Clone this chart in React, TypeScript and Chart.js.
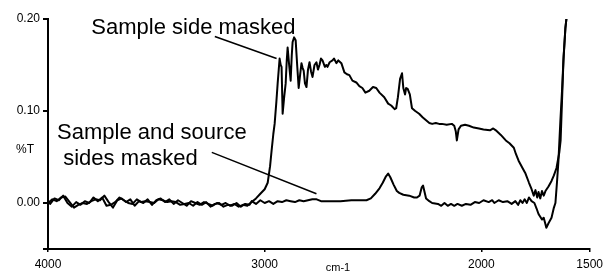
import React, { useEffect, useRef } from "react";
import { Chart, registerables } from "chart.js";

Chart.register(...registerables);

// ---- Data (wavenumber cm-1, %T) ----
const sideMaskedWn = [
  4000, 3980, 3960, 3940, 3920, 3900, 3880, 3860, 3840, 3820, 3800, 3780, 3760, 3740, 3720, 3700,
  3680, 3660, 3640, 3620, 3600, 3580, 3560, 3540, 3520, 3500, 3480, 3460, 3440, 3420, 3400, 3380,
  3360, 3340, 3320, 3300, 3280, 3260, 3240, 3220, 3200, 3180, 3160, 3140, 3120, 3100, 3080, 3060,
  3040, 3020, 3000, 2986, 2975, 2968, 2960, 2954, 2946, 2940, 2935, 2931, 2926, 2922, 2917, 2910,
  2903, 2898, 2894, 2887, 2880, 2875, 2871, 2864, 2857, 2850, 2843, 2836, 2830, 2825, 2820, 2814,
  2807, 2800, 2793, 2786, 2779, 2770, 2761, 2754, 2747, 2740, 2733, 2722, 2715, 2710, 2700, 2687,
  2680, 2669, 2660, 2646, 2632, 2620, 2609, 2595, 2577, 2563, 2549, 2535, 2517, 2500, 2485, 2470,
  2448, 2430, 2416, 2400, 2393, 2385, 2375, 2366, 2360, 2352, 2347, 2340, 2330, 2320, 2305, 2287,
  2270, 2255, 2240, 2227, 2210, 2195, 2182, 2160, 2136, 2125, 2118, 2113, 2105, 2094, 2075, 2057,
  2035, 2011, 1990, 1960, 1945, 1933, 1910, 1887, 1870, 1850, 1840, 1828, 1810, 1796, 1780, 1768,
  1758, 1750, 1742, 1736, 1728, 1720, 1712, 1704, 1690, 1676, 1665, 1653, 1640, 1634, 1628, 1621,
  1612, 1605,
];
const sideMaskedT = [
  0.000, 0.004, 0.002, 0.006, 0.007, 0.001, -0.005, -0.002, 0.000, -0.001, 0.002, 0.004, 0.003, 0.008, 0.001, -0.005,
  0.003, 0.005, 0.001, 0.004, -0.003, 0.002, 0.000, 0.004, -0.002, 0.003, 0.005, 0.001, 0.004, -0.001, 0.003, 0.000,
  -0.003, 0.002, 0.000, -0.002, 0.001, -0.001, -0.003, 0.000, -0.002, 0.000, -0.003, -0.001, -0.004, -0.002, -0.003, 0.001,
  0.005, 0.010, 0.015, 0.022, 0.040, 0.057, 0.075, 0.086, 0.110, 0.130, 0.145, 0.157, 0.150, 0.148, 0.097, 0.115,
  0.130, 0.155, 0.169, 0.150, 0.133, 0.160, 0.175, 0.180, 0.177, 0.150, 0.125, 0.140, 0.152, 0.147, 0.144, 0.130,
  0.126, 0.145, 0.153, 0.143, 0.137, 0.150, 0.153, 0.145, 0.150, 0.157, 0.155, 0.148, 0.150, 0.148, 0.153, 0.155,
  0.157, 0.152, 0.155, 0.152, 0.142, 0.140, 0.139, 0.133, 0.131, 0.127, 0.125, 0.120, 0.122, 0.126, 0.125, 0.120,
  0.115, 0.108, 0.106, 0.102, 0.103, 0.115, 0.135, 0.141, 0.125, 0.118, 0.125, 0.124, 0.118, 0.103, 0.100, 0.097,
  0.093, 0.090, 0.087, 0.086, 0.087, 0.086, 0.086, 0.085, 0.086, 0.084, 0.078, 0.068, 0.080, 0.084, 0.085, 0.084,
  0.082, 0.081, 0.080, 0.079, 0.081, 0.079, 0.074, 0.068, 0.065, 0.060, 0.053, 0.046, 0.038, 0.032, 0.022, 0.015,
  0.008, 0.014, 0.006, 0.012, 0.005, 0.013, 0.008, 0.013, 0.018, 0.024, 0.030, 0.038, 0.055, 0.068, 0.108, 0.155,
  0.190, 0.205,
];

const bothMaskedWn = [
  4000, 3990, 3970, 3950, 3930, 3910, 3890, 3870, 3850, 3830, 3810, 3790, 3770, 3750, 3730, 3710,
  3690, 3670, 3650, 3630, 3610, 3590, 3570, 3550, 3530, 3510, 3490, 3470, 3450, 3430, 3410, 3390,
  3370, 3350, 3330, 3310, 3290, 3270, 3250, 3230, 3210, 3190, 3170, 3150, 3130, 3110, 3090, 3070,
  3060, 3040, 3020, 3000, 2980, 2960, 2940, 2920, 2900, 2880, 2860, 2840, 2820, 2800, 2780, 2760,
  2740, 2700, 2650, 2600, 2560, 2530, 2510, 2490, 2470, 2455, 2440, 2430, 2420, 2405, 2390, 2379,
  2360, 2333, 2310, 2297, 2285, 2275, 2269, 2262, 2255, 2240, 2227, 2200, 2185, 2170, 2155, 2140,
  2125, 2110, 2090, 2071, 2050, 2030, 2010, 1990, 1966, 1950, 1940, 1920, 1900, 1880, 1860, 1843,
  1830, 1820, 1810, 1800, 1790, 1780, 1768, 1755, 1745, 1736, 1720, 1712, 1704, 1700, 1690, 1676,
  1665, 1658, 1650, 1644, 1635, 1628, 1620, 1612, 1605,
];
const bothMaskedT = [
  0.002, -0.001, 0.005, 0.003, 0.008, 0.000, -0.004, 0.001, -0.002, 0.002, 0.000, 0.006, 0.002, 0.006, -0.003, -0.002,
  0.001, 0.006, 0.003, 0.000, -0.001, 0.004, 0.001, 0.002, 0.001, 0.000, 0.004, 0.003, 0.001, 0.002, 0.001, -0.002,
  -0.001, 0.000, -0.003, 0.001, -0.002, 0.001, -0.004, -0.001, 0.000, -0.004, -0.002, -0.003, 0.000, -0.004, -0.001, -0.002,
  0.002, -0.001, 0.003, 0.000, 0.002, -0.001, 0.002, 0.001, 0.003, 0.002, 0.001, 0.003, 0.002, 0.003, 0.004, 0.004,
  0.002, 0.002, 0.002, 0.003, 0.003, 0.003, 0.005, 0.010, 0.016, 0.022, 0.029, 0.032, 0.028, 0.020, 0.013, 0.011,
  0.009, 0.008, 0.006, 0.006, 0.008, 0.017, 0.019, 0.012, 0.005, 0.002, 0.000, -0.001, -0.003, 0.000, -0.003, -0.001,
  -0.003, -0.001, -0.003, -0.001, -0.002, 0.001, 0.000, 0.003, 0.001, 0.003, 0.000, 0.003, 0.001, 0.002, -0.001, 0.002,
  -0.002, 0.003, 0.000, 0.004, 0.000, 0.006, 0.002, 0.000, -0.006, -0.012, -0.018, -0.016, -0.023, -0.027, -0.022, -0.016,
  -0.005, 0.000, 0.025, 0.046, 0.090, 0.120, 0.160, 0.190, 0.205,
];

const xTickValues = [4000, 3000, 2000, 1500];
const yTickValues = [-0.05, 0, 0.1, 0.2];

const FONT = "'Liberation Sans', Arial, sans-serif";

const annotationPlugin = {
  id: "annotations",
  afterDraw(chart: any) {
    const { ctx } = chart;
    const xs = chart.scales.x;
    const ys = chart.scales.y;
    const px = (w: number) => xs.getPixelForValue(w);
    const py = (v: number) => ys.getPixelForValue(v);
    ctx.save();
    ctx.fillStyle = "#000";
    ctx.strokeStyle = "#000";
    ctx.textBaseline = "middle";
    ctx.textAlign = "left";
    ctx.font = `22px ${FONT}`;
    ctx.fillText("Sample side masked", px(3800), py(0.190));
    ctx.fillText("Sample and source", px(3958), py(0.0765));
    ctx.fillText("sides masked", px(3930), py(0.048));
    ctx.lineWidth = 1.5;
    ctx.beginPath();
    ctx.moveTo(px(3230), py(0.181));
    ctx.lineTo(px(2945), py(0.157));
    ctx.moveTo(px(3244), py(0.055));
    ctx.lineTo(px(2761), py(0.010));
    ctx.stroke();
    ctx.font = `12px ${FONT}`;
    ctx.textAlign = "center";
    ctx.fillText("%T", 25, 150);
    ctx.font = `11px ${FONT}`;
    ctx.fillText("cm-1", 338, 268);
    ctx.restore();
  },
};

export default function App() {
  const ref = useRef<HTMLCanvasElement | null>(null);
  useEffect(() => {
    document.body.style.margin = "0";
    const canvas = ref.current!;
    const mk = (wn: number[], t: number[]) => wn.map((w, i) => ({ x: w, y: t[i] }));
    const chart = new Chart(canvas, {
      type: "line",
      data: {
        datasets: [
          {
            data: mk(sideMaskedWn, sideMaskedT),
            borderColor: "#000",
            borderWidth: 2,
            pointRadius: 0,
            tension: 0,
            borderJoinStyle: "round",
          },
          {
            data: mk(bothMaskedWn, bothMaskedT),
            borderColor: "#000",
            borderWidth: 2,
            pointRadius: 0,
            tension: 0,
            borderJoinStyle: "round",
          },
        ],
      },
      options: {
        responsive: false,
        animation: false,
        layout: { padding: { top: 19, right: 17, bottom: 0, left: 0 } },
        plugins: { legend: { display: false }, tooltip: { enabled: false } },
        scales: {
          x: {
            type: "linear",
            reverse: true,
            min: 1500,
            max: 4000,
            afterBuildTicks: (s: any) => {
              s.ticks = xTickValues.map((v) => ({ value: v }));
            },
            afterFit: (s: any) => {
              s.height = 22;
            },
            grid: { drawOnChartArea: false, tickLength: 3, color: "#000", lineWidth: 1.5 },
            border: { display: true, color: "#000", width: 2 },
            ticks: {
              autoSkip: false,
              maxRotation: 0,
              padding: 5,
              color: "#000",
              font: { family: FONT, size: 12 },
              callback: (v: any) => String(v),
            },
          },
          y: {
            type: "linear",
            min: -0.05,
            max: 0.2,
            afterBuildTicks: (s: any) => {
              s.ticks = yTickValues.map((v) => ({ value: v }));
            },
            afterFit: (s: any) => {
              s.width = 48;
            },
            grid: { drawOnChartArea: false, tickLength: 5, color: "#000", lineWidth: 2 },
            border: { display: true, color: "#000", width: 2 },
            ticks: {
              padding: 3,
              color: "#000",
              font: { family: FONT, size: 12 },
              callback: (v: any) => (Math.abs(v + 0.05) < 1e-9 ? "" : Number(v).toFixed(2)),
            },
          },
        },
      },
      plugins: [annotationPlugin],
    } as any);
    return () => chart.destroy();
  }, []);
  return <canvas ref={ref} width={608} height={271} style={{ display: "block" }} />;
}
